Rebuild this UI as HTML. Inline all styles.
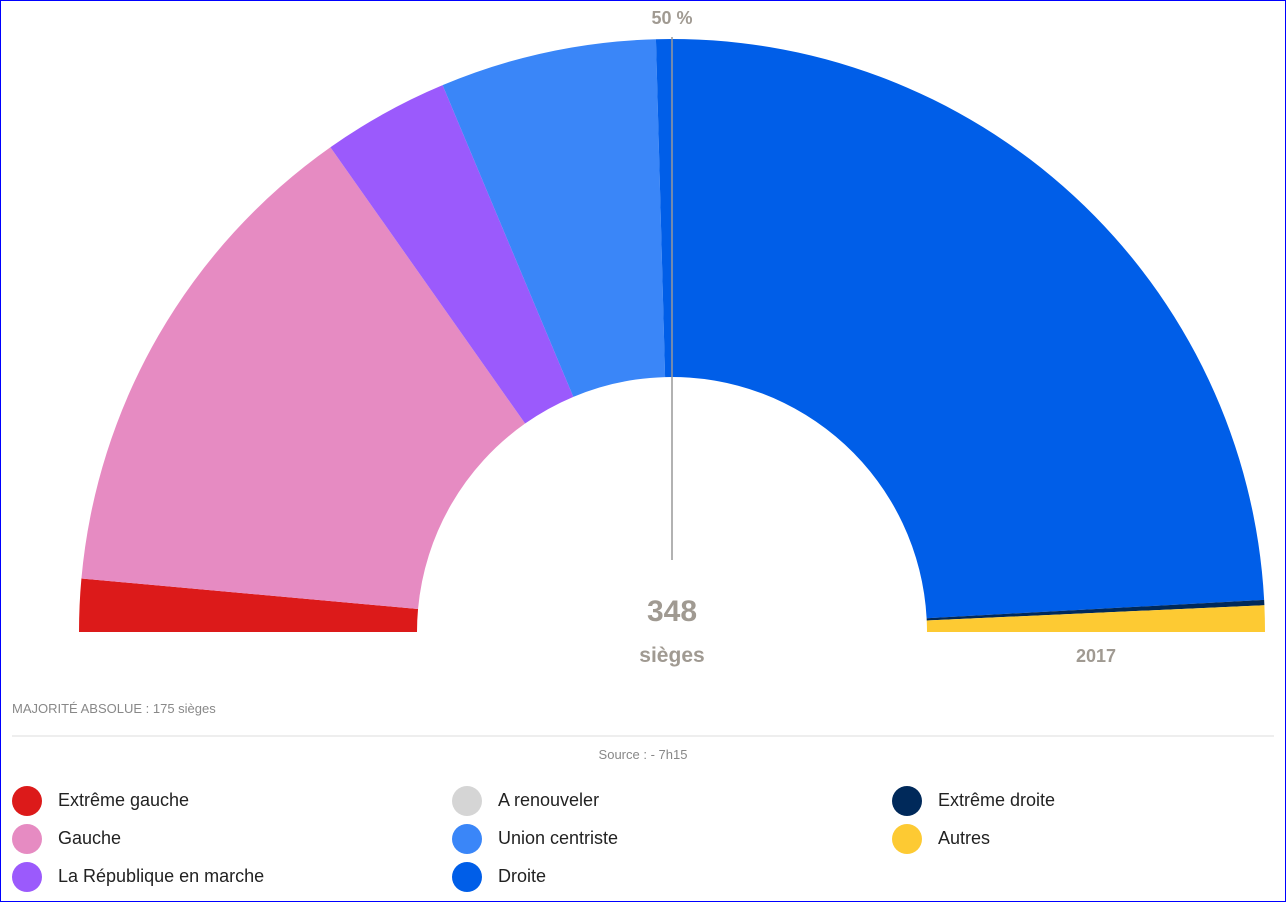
<!DOCTYPE html>
<html><head><meta charset="utf-8"><style>
html,body{margin:0;padding:0;background:#fff;}
body{width:1286px;height:902px;position:relative;overflow:hidden;font-family:"Liberation Sans",sans-serif;}
#frame{position:absolute;left:0;top:0;width:1284px;height:900px;border:1px solid #0000ff;}
.lg{position:absolute;font-size:18px;color:#222;}
.dot{position:absolute;width:30px;height:30px;border-radius:50%;}
</style></head><body>
<div id="frame"></div>
<svg id="chart" width="1286" height="700" style="position:absolute;left:0;top:0"></svg>
<div style="position:absolute;left:12px;top:701px;font-size:13px;color:#888">MAJORITÉ ABSOLUE : 175 sièges</div>
<div style="position:absolute;left:12px;top:735px;width:1262px;height:2px;background:#eee"></div>
<div style="position:absolute;left:0;width:1286px;top:747px;text-align:center;font-size:13px;color:#888">Source : - 7h15</div>
<div id="legend"></div>
<script>
const parties = ["Extrême gauche","Gauche","La République en marche","Union centriste","Droite","Extrême droite","Autres"];
const seats = [10,96,24,41,171,1,5];
const colors = ["#dc1a1a","#e68bc2","#9b5afc","#3a86f8","#005ee8","#00295a","#fdca33"];
const legendNames = ["Extrême gauche","Gauche","La République en marche","A renouveler","Union centriste","Droite","Extrême droite","Autres"];
const legendColors = ["#dc1a1a","#e68bc2","#9b5afc","#d5d5d5","#3a86f8","#005ee8","#00295a","#fdca33"];
const totalSeats = 348;

const svg = document.getElementById('chart');
const NS = 'http://www.w3.org/2000/svg';
const cx = 672, cy = 632, R = 593, r = 255;
const total = seats.reduce((a,b)=>a+b,0);
function ang(v){ return Math.PI - v/total*Math.PI; }
function pt(a,rad){ return [cx+rad*Math.cos(a), cy-rad*Math.sin(a)]; }
let cum = 0;
seats.forEach((s,i)=>{
  const a0 = ang(cum), a1 = ang(cum+s); cum += s;
  const p0=pt(a0,R), p1=pt(a1,R), q1=pt(a1,r), q0=pt(a0,r);
  const large = (a0-a1)>Math.PI?1:0;
  const d=`M${p0[0]},${p0[1]} A${R},${R} 0 ${large} 1 ${p1[0]},${p1[1]} L${q1[0]},${q1[1]} A${r},${r} 0 ${large} 0 ${q0[0]},${q0[1]} Z`;
  const p=document.createElementNS(NS,'path');
  p.setAttribute('d',d); p.setAttribute('fill',colors[i]);
  
  
  svg.appendChild(p);
});
const ln=document.createElementNS(NS,'line');
ln.setAttribute('x1',cx);ln.setAttribute('x2',cx);ln.setAttribute('y1',37);ln.setAttribute('y2',560);
ln.setAttribute('stroke','#999');ln.setAttribute('stroke-width','1.5');


svg.appendChild(ln);
function txt(x,y,s,size,name){
  const t=document.createElementNS(NS,'text');
  t.setAttribute('x',x);t.setAttribute('y',y);t.setAttribute('text-anchor','middle');
  t.setAttribute('font-size',size);t.setAttribute('font-weight','bold');t.setAttribute('fill','#a09a92');
  t.setAttribute('font-family','Liberation Sans, sans-serif');
  t.textContent=s;
  
  
  svg.appendChild(t);
}
txt(672,24,'50 %',18,'majority-label');
txt(672,621,String(totalSeats),30,'total-seats');
txt(672,662,'sièges',21,'seats-label');
txt(1096,662,'2017',18,'year-label');

const lg=document.getElementById('legend');
legendNames.forEach((n,i)=>{
  const col=Math.floor(i/3), row=i%3;
  const x=12+col*440, y=786+row*38;
  const d=document.createElement('div');
  d.className='dot'; d.style.left=x+'px'; d.style.top=y+'px'; d.style.background=legendColors[i];
  
  
  lg.appendChild(d);
  const t=document.createElement('div');
  t.className='lg'; t.style.left=(x+46)+'px'; t.style.top=(y+4)+'px'; t.textContent=n;
  
  
  lg.appendChild(t);
});
</script>
</body></html>
